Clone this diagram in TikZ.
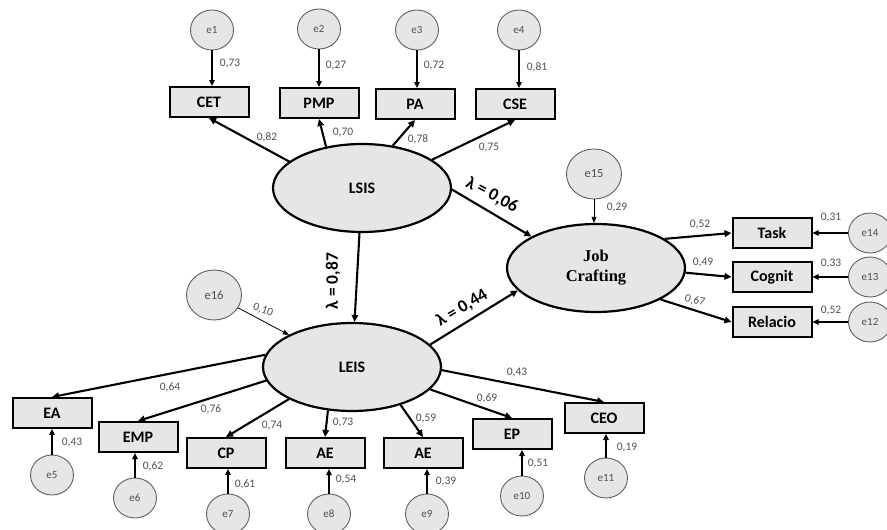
\documentclass[tikz,border=0pt]{standalone}
\usepackage{fontspec}
\setmainfont{Carlito}
\newfontfamily\jobfont{Liberation Serif}
\usepackage{tikz}
\usetikzlibrary{shapes.geometric,arrows.meta}
\definecolor{boxgray}{RGB}{230,230,230}
\definecolor{numgray}{RGB}{80,80,80}
\definecolor{errline}{RGB}{95,95,95}

\begin{document}
\begin{tikzpicture}[x=1pt,y=-1pt,lat/.style={draw,ellipse,fill=boxgray,line width=2.2pt,minimum width=178pt,minimum height=88pt,inner sep=0pt,font=\fontsize{16}{19}\selectfont\bfseries},obs/.style={draw,rectangle,fill=boxgray,line width=2pt,minimum width=79pt,minimum height=30pt,inner sep=0pt,font=\fontsize{16}{19}\selectfont\bfseries},err/.style={draw=errline,ellipse,fill=boxgray,line width=0.9pt,minimum width=43pt,minimum height=40pt,inner sep=0pt,text=numgray,font=\fontsize{11}{12}\selectfont},bigerr/.style={err,minimum width=55pt,minimum height=50pt,font=\fontsize{12.5}{14}\selectfont},num/.style={text=numgray,font=\fontsize{11.5}{13}\selectfont,inner sep=0pt},lam/.style={font=\fontsize{17.5}{20}\selectfont\bfseries,inner sep=0pt},arr/.style={-{Triangle[length=7pt,width=6.5pt]},line width=2.1pt},earr/.style={-{Triangle[length=6pt,width=5.5pt]},line width=1.6pt},fine/.style={-{Triangle[length=6pt,width=5pt]},line width=0.8pt}]
\useasboundingbox (0,0) rectangle (887,530);
\node[err] (e1) at (212,30) {e1};
\node[err] (e2) at (319,29) {e2};
\node[err] (e3) at (417,30) {e3};
\node[err] (e4) at (519,30) {e4};
\node[obs] (cet) at (209,102) {CET};
\node[obs] (pmp) at (319,103) {PMP};
\node[obs] (pa) at (415,104) {PA};
\node[obs] (cse) at (515,104) {CSE};
\node[lat] (lsis) at (362,188) {LSIS};
\node[lat] (leis) at (352,367) {LEIS};
\node[lat,font=\jobfont\fontsize{16.5}{20}\selectfont\bfseries,align=center] (jc) at (596,268) {Job\\Crafting};
\node[bigerr] (e15) at (594,174) {e15};
\node[bigerr] (e16) at (214,295) {e16};
\node[obs] (task) at (772,233) {Task};
\node[obs] (cog) at (772,277) {Cognit};
\node[obs] (rel) at (772,322) {Relacio};
\node[err] (e14) at (870,233) {e14};
\node[err] (e13) at (870,277) {e13};
\node[err] (e12) at (870,322) {e12};
\node[obs] (ea) at (52,413) {EA};
\node[obs] (emp) at (138,437) {EMP};
\node[obs] (cp) at (226,453) {CP};
\node[obs] (ae1) at (325,453) {AE};
\node[obs] (ae2) at (423,453) {AE};
\node[obs] (ep) at (512,434) {EP};
\node[obs] (ceo) at (604,418) {CEO};
\node[err] (e5) at (52,475) {e5};
\node[err] (e6) at (135,498) {e6};
\node[err] (e7) at (228,514) {e7};
\node[err] (e8) at (329,514) {e8};
\node[err] (e9) at (427,514) {e9};
\node[err] (e10) at (522,496) {e10};
\node[err] (e11) at (606,478) {e11};
\draw[earr] (e1) -- (e1 |- cet.north);
\draw[earr] (e2) -- (e2 |- pmp.north);
\draw[earr] (e3) -- (e3 |- pa.north);
\draw[earr] (e4) -- (e4 |- cse.north);
\draw[arr] (lsis.160) -- (cet.south);
\draw[arr] (lsis.131) -- (pmp.south);
\draw[arr] (lsis.54) -- (pa.south);
\draw[arr] (lsis.22) -- (cse.south);
\draw[arr] (lsis.359) -- (jc.154);
\draw[arr] (lsis) -- (leis);
\draw[arr] (leis.16) -- (jc.196);
\draw[fine] (e15) -- (e15 |- jc.north);
\draw[fine] (e16) -- (leis.153);
\draw[arr] (jc.23) -- (task.west);
\draw[arr] (jc.357) -- (cog.west);
\draw[arr] (jc.334) -- (rel.west);
\draw[earr] (e14) -- (task.east);
\draw[earr] (e13) -- (cog.east);
\draw[earr] (e12) -- (rel.east);
\draw[arr] (leis.172) -- (ea.north);
\draw[arr] (leis.189) -- (emp.north);
\draw[arr] (leis.207) -- (cp.north);
\draw[arr] (leis.241) -- (ae1.north);
\draw[arr] (leis.322) -- (ae2.north);
\draw[arr] (leis.344) -- (ep.north);
\draw[arr] (leis.358) -- (ceo.north);
\draw[earr] (e5) -- (e5 |- ea.south);
\draw[earr] (e6) -- (e6 |- emp.south);
\draw[earr] (e7) -- (e7 |- cp.south);
\draw[earr] (e8) -- (e8 |- ae1.south);
\draw[earr] (e9) -- (e9 |- ae2.south);
\draw[earr] (e10) -- (e10 |- ep.south);
\draw[earr] (e11) -- (e11 |- ceo.south);
\node[num] (n1) at (230,64) {0,73};
\node[num] (n2) at (336,66) {0,27};
\node[num] (n3) at (434,66) {0,72};
\node[num] (n4) at (537,67) {0,81};
\node[num] (n5) at (267,137) {0,82};
\node[num] (n6) at (343,133) {0,70};
\node[num] (n7) at (418,139) {0,78};
\node[num] (n8) at (489,148) {0,75};
\node[num] (n9) at (617,208) {0,29};
\node[num] (n10) at (700,225) {0,52};
\node[num] (n11) at (703,263) {0,49};
\node[num,rotate=-12] (n12) at (695,301) {0,67};
\node[num] (n13) at (831,218) {0,31};
\node[num] (n14) at (831,264) {0,33};
\node[num] (n15) at (831,311) {0,52};
\node[num,rotate=-20] (n16) at (263,310) {0,10};
\node[num] (n17) at (170,387) {0,64};
\node[num] (n18) at (211,409) {0,76};
\node[num] (n19) at (272,426) {0,74};
\node[num] (n20) at (343,423) {0,73};
\node[num] (n21) at (426,419) {0,59};
\node[num] (n22) at (487,398) {0,69};
\node[num] (n23) at (517,373) {0,43};
\node[num] (n24) at (72,443) {0,43};
\node[num] (n25) at (153,466) {0,62};
\node[num] (n26) at (245,484) {0,61};
\node[num] (n27) at (346,480) {0,54};
\node[num] (n28) at (446,481) {0,39};
\node[num] (n29) at (538,464) {0,51};
\node[num] (n30) at (627,448) {0,19};
\node[lam,rotate=-28] (lam1) at (492,195) {λ = 0,06};
\node[lam,rotate=90] (lam2) at (333,281) {λ = 0,87};
\node[lam,rotate=31] (lam3) at (462,308) {λ = 0,44};
\end{tikzpicture}
\end{document}
